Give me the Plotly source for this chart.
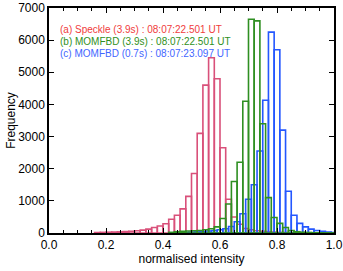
import plotly.graph_objects as go

# Bin left edges (normalised intensity) and counts
red_edges = [0.16, 0.18, 0.20, 0.22, 0.24, 0.26, 0.28, 0.30, 0.32, 0.34, 0.36, 0.38,
             0.40, 0.42, 0.44, 0.46, 0.48, 0.50, 0.52, 0.54, 0.56, 0.58, 0.60, 0.62,
             0.64, 0.66, 0.68, 0.70, 0.72, 0.74, 0.76, 0.78, 0.80, 0.82, 0.84, 0.86,
             0.88, 0.90, 0.92, 0.94, 0.96, 0.98]
red_counts = [15, 20, 25, 30, 35, 45, 55, 70, 90, 120, 170, 220,
              290, 430, 550, 750, 1140, 1850, 3100, 4600, 5450, 4800, 2650, 1050,
              500, 270, 140, 100, 70, 50, 40, 30, 20, 15, 10, 8,
              6, 5, 4, 3, 2, 2]

green_edges = [0.42, 0.44, 0.46, 0.48, 0.50, 0.52, 0.54, 0.56, 0.58, 0.60, 0.62, 0.64,
               0.66, 0.68, 0.70, 0.72, 0.74, 0.76, 0.78, 0.80, 0.82, 0.84, 0.86, 0.88,
               0.90, 0.92, 0.94, 0.96, 0.98]
green_counts = [20, 40, 50, 60, 70, 80, 100, 130, 190, 450, 900, 1600,
                2200, 4100, 6650, 6600, 3400, 1100, 480, 300, 170, 80, 40, 25,
                15, 10, 6, 4, 3]

blue_edges = [0.45, 0.47, 0.49, 0.51, 0.53, 0.55, 0.57, 0.59, 0.61, 0.63, 0.65, 0.67,
              0.69, 0.71, 0.73, 0.75, 0.77, 0.79, 0.81, 0.83, 0.85, 0.87, 0.89, 0.91,
              0.93, 0.95, 0.97, 0.99]
blue_counts = [10, 15, 25, 35, 45, 60, 80, 100, 130, 200, 350, 600,
               1050, 1500, 2550, 4130, 6250, 5700, 3200, 1300, 550, 300, 190, 120,
               80, 50, 30, 15]

bin_width = 0.02

labels = ["(a) Speckle (3.9s) : 08:07:22.501 UT",
          "(b) MOMFBD (3.9s) : 08:07:22.501 UT",
          "(c) MOMFBD (0.7s) : 08:07:23.097 UT"]

x_ticks = [0.0, 0.2, 0.4, 0.6, 0.8, 1.0]
x_ticklabels = ["0.0", "0.2", "0.4", "0.6", "0.8", "1.0"]
y_ticks = [0, 1000, 2000, 3000, 4000, 5000, 6000, 7000]

RED_BAR = "#d9507a"
GREEN_BAR = "#2f8f22"
BLUE_BAR = "#2457ff"
RED_TXT = "#f03c3c"
GREEN_TXT = "#2f8f22"
BLUE_TXT = "#3f66ff"

fig = go.Figure()

def add_hist(edges, counts, color):
    fig.add_trace(go.Bar(
        x=edges, y=counts, width=bin_width, offset=0,
        marker=dict(color="rgba(0,0,0,0)", line=dict(color=color, width=1.6)),
        showlegend=False, hoverinfo="skip",
    ))

add_hist(red_edges, red_counts, RED_BAR)
add_hist(blue_edges, blue_counts, BLUE_BAR)
add_hist(green_edges, green_counts, GREEN_BAR)

font_family = "Liberation Sans, Arial, Helvetica, sans-serif"

for i, (txt, col) in enumerate(zip(labels, [RED_TXT, GREEN_TXT, BLUE_TXT])):
    fig.add_annotation(
        x=0.03, y=6330 - i * 365, xref="x", yref="y",
        text=txt, showarrow=False, xanchor="left", yanchor="middle",
        font=dict(family=font_family, size=10, color=col),
    )

fig.update_layout(
    width=343, height=271,
    margin=dict(l=49, r=9, t=8, b=38, autoexpand=False),
    paper_bgcolor="white", plot_bgcolor="white",
    barmode="overlay",
    font=dict(family=font_family, size=12, color="black"),
    xaxis=dict(
        range=[0, 1], tickvals=x_ticks, ticktext=x_ticklabels,
        ticks="inside", ticklen=5, tickwidth=1, tickcolor="black",
        minor=dict(dtick=0.05, ticks="inside", ticklen=3, tickcolor="black", tickwidth=1),
        showline=True, linecolor="black", linewidth=1.5, mirror="ticks",
        showgrid=False, zeroline=False, automargin=False,
        ticklabeloverflow="allow",
        title=dict(text="normalised intensity", standoff=0, font=dict(size=12)),
        tickfont=dict(size=12),
    ),
    yaxis=dict(
        range=[0, 7000], tickvals=y_ticks,
        ticks="inside", ticklen=5, tickwidth=1, tickcolor="black",
        showline=True, linecolor="black", linewidth=1.5, mirror="ticks",
        showgrid=False, zeroline=False, automargin=False,
        ticklabeloverflow="allow",
        title=dict(text="Frequency", standoff=0, font=dict(size=12)),
        tickfont=dict(size=12),
    ),
)

fig.write_html("out.html",
               config={"displayModeBar": False},
               post_script="document.body.style.margin='0';document.body.style.padding='0';")
